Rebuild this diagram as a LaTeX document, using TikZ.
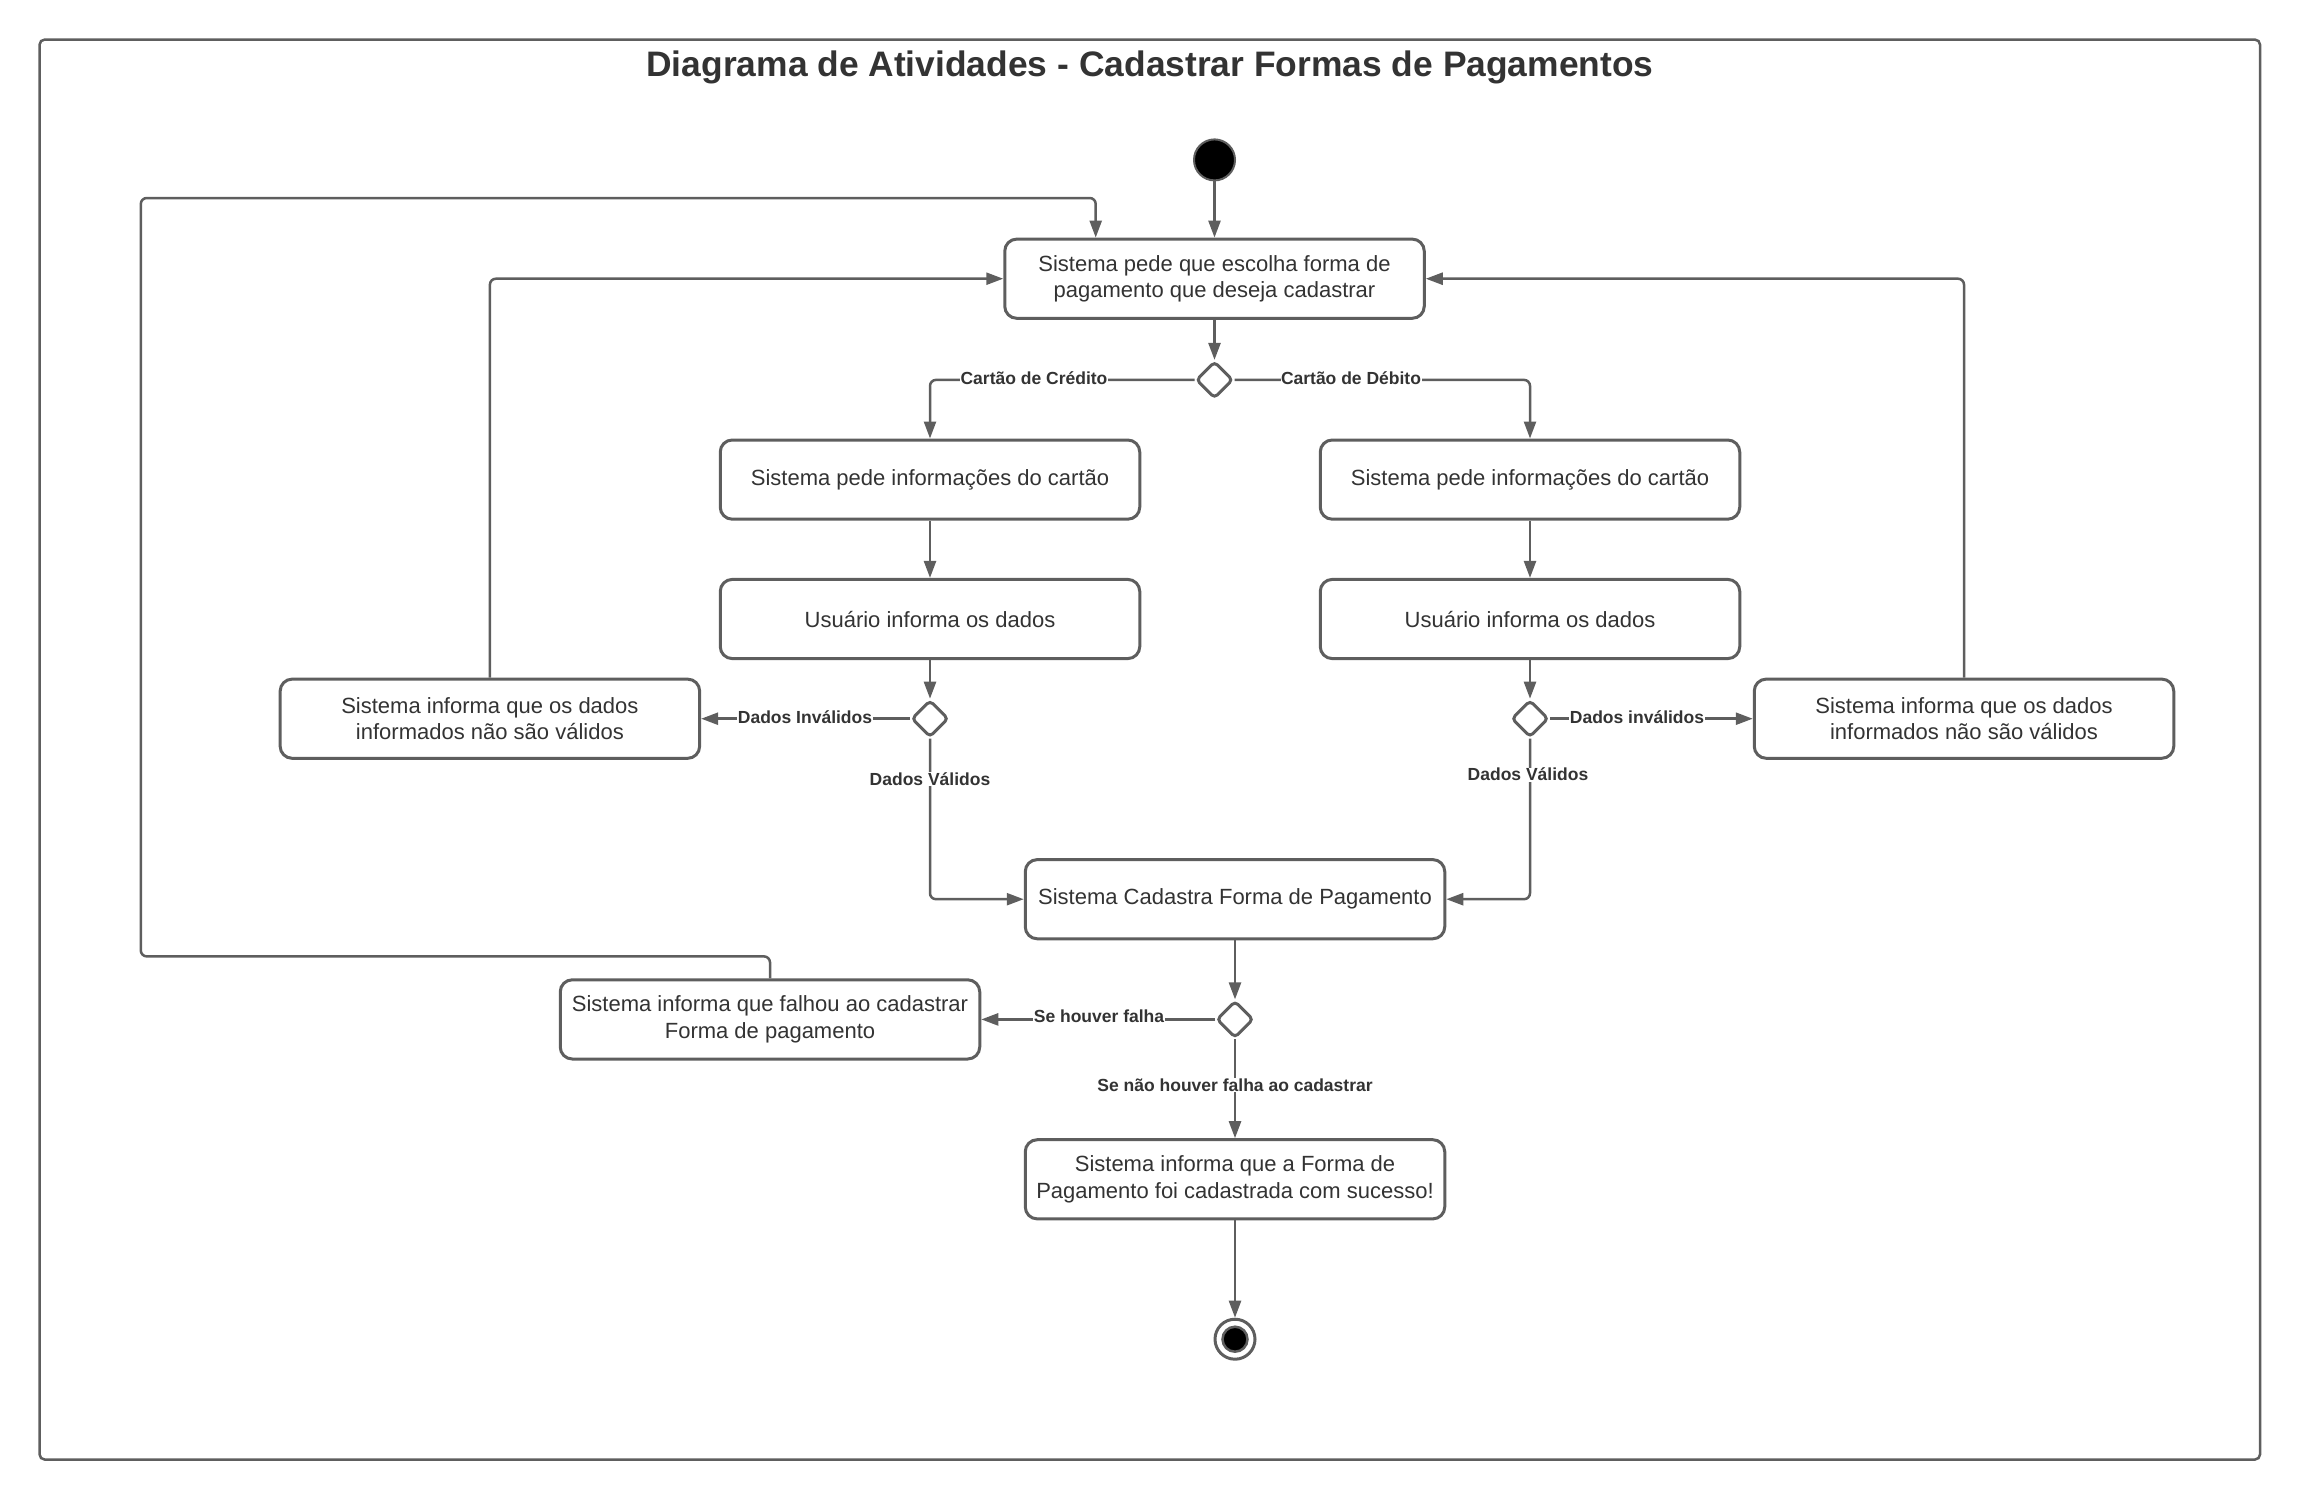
\documentclass[tikz,border=0pt]{standalone}
\usepackage{fontspec}
\setmainfont{Liberation Sans}
\usetikzlibrary{arrows.meta,shapes.geometric}
\definecolor{ln}{HTML}{5E5E5E}
\definecolor{tx}{HTML}{333333}
\begin{document}
\begin{tikzpicture}[x=1pt,y=-1pt,
 act/.style={draw=ln,line width=3pt,rounded corners=12pt,minimum width=419.5pt,minimum height=79.2pt,align=center,font=\fontsize{22}{26.4}\selectfont,text=tx,inner sep=0pt,fill=white},
 dec/.style={draw=ln,line width=3pt,diamond,rounded corners=4pt,minimum width=37pt,minimum height=37pt,inner sep=0pt,fill=white},
 flow/.style={draw=ln,line width=2.5pt,-{Triangle[length=17pt,width=12pt]},rounded corners=6pt},
 lbl/.style={fill=white,font=\fontsize{17.5}{20}\selectfont\bfseries,text=tx,inner sep=0.5pt},
]
\useasboundingbox (0,0) rectangle (2300,1500);
\node[draw=ln,line width=2.5pt,rounded corners=5pt,minimum width=2220.4pt,minimum height=1419.9pt,inner sep=0pt] (frame) at (1149.8,749.55) {};
\node[font=\fontsize{35.4}{40}\selectfont\bfseries,text=tx] (title) at (1150,67.5) {Diagrama de Atividades - Cadastrar Formas de Pagamentos};

\node[circle,fill=black,draw=ln,line width=2pt,minimum size=41pt,inner sep=0pt] (S) at (1214.5,159.9) {};
\node[act] (A) at (1214.5,278.7) {Sistema pede que escolha forma de\\pagamento que deseja cadastrar};
\node[dec] (D1) at (1214.5,379.9) {};
\node[act] (B1) at (930,479.6) {Sistema pede informações do cartão};
\node[act] (B2) at (1530,479.6) {Sistema pede informações do cartão};
\node[act] (C1) at (930,619) {Usuário informa os dados};
\node[act] (C2) at (1530,619) {Usuário informa os dados};
\node[dec] (D2) at (930,718.7) {};
\node[dec] (D3) at (1530,718.7) {};
\node[act] (E1) at (489.9,718.7) {Sistema informa que os dados\\informados não são válidos};
\node[act] (E2) at (1964,718.7) {Sistema informa que os dados\\informados não são válidos};
\node[act] (F) at (1235,899.2) {Sistema Cadastra Forma de Pagamento};
\node[dec] (D4) at (1235,1019.4) {};
\node[act] (G) at (770,1019.4) {Sistema informa que falhou ao cadastrar\\Forma de pagamento};
\node[act] (H) at (1235,1179.3) {Sistema informa que a Forma de\\Pagamento foi cadastrada com sucesso!};
\node[circle,draw=ln,line width=3pt,minimum size=40pt,inner sep=0pt] (E) at (1235,1339.2) {};
\node[circle,fill=black,draw=ln,line width=2.5pt,minimum size=25pt,inner sep=0pt] (Ein) at (E) {};

\coordinate (L1) at (140.8,956.4);
\coordinate (L2) at (140.8,198);
\coordinate (L3) at (1095.7,198);

\draw[flow] (S) -- (A);
\draw[flow] (A) -- (D1);
\draw[flow] (D1.west) -| (B1.north);
\draw[flow] (D1.east) -| (B2.north);
\draw[flow] (B1) -- (C1);
\draw[flow] (B2) -- (C2);
\draw[flow] (C1) -- (D2);
\draw[flow] (C2) -- (D3);
\draw[flow] (D2.west) -- (E1.east);
\draw[flow] (D3.east) -- (E2.west);
\draw[flow] (D2.south) |- (F.west);
\draw[flow] (D3.south) |- (F.east);
\draw[flow] (E1.north) |- (A.west);
\draw[flow] (E2.north) |- (A.east);
\draw[flow] (F) -- (D4);
\draw[flow] (D4.west) -- (G.east);
\draw[flow] (D4.south) -- (H.north);
\draw[flow] (H) -- (E);
\draw[flow] (G.north) |- (L1) -- (L2) -- (L3) -- (A.north -| L3);

\node[lbl] (l1) at (1034,378.4) {Cartão de Crédito};
\node[lbl] (l2) at (1351,378.4) {Cartão de Débito};
\node[lbl] (l3) at (805,717) {Dados Inválidos};
\node[lbl] (l4) at (1637,717) {Dados inválidos};
\node[lbl] (l5) at (930,779) {Dados Válidos};
\node[lbl] (l6) at (1528,774.5) {Dados Válidos};
\node[lbl] (l7) at (1099,1016.5) {Se houver falha};
\node[lbl] (l8) at (1235,1085.4) {Se não houver falha ao cadastrar};
\end{tikzpicture}
\end{document}
